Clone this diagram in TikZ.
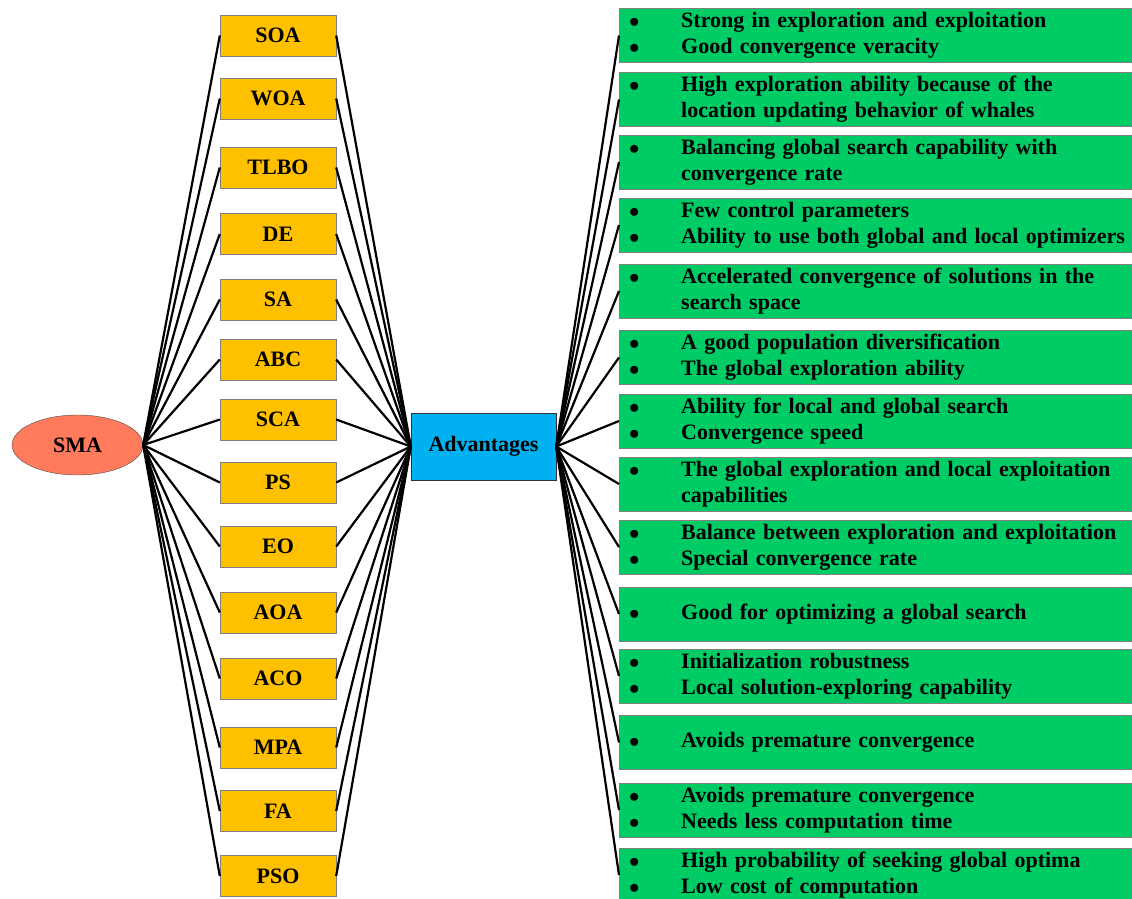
\documentclass[tikz,border=0pt]{standalone}
\usepackage{fontspec}
\setmainfont{Liberation Serif}
\usepackage{tikz}
\usetikzlibrary{shapes.geometric, positioning}
\definecolor{smasalmon}{HTML}{FF7B5C}
\definecolor{algyellow}{HTML}{FFC000}
\definecolor{advblue}{HTML}{00B0F0}
\definecolor{prosgreen}{HTML}{00CC66}
\definecolor{edgegray}{HTML}{7F7F7F}

% bullet lists inside the green boxes
\newcommand{\bul}{$\bullet$}
\newcommand{\twopts}[2]{\begin{tabular}{@{}p{52pt}@{}l@{}}\bul & #1\\ \bul & #2\end{tabular}}
\newcommand{\wrappt}[2]{\begin{tabular}{@{}p{52pt}@{}l@{}}\bul & #1\\ & #2\end{tabular}}
\newcommand{\onept}[1]{\begin{tabular}{@{}p{52pt}@{}l@{}}\bul & #1\end{tabular}}

\tikzset{
  bigfont/.style={font=\fontsize{22}{26}\selectfont\bfseries},
  algbox/.style={draw=edgegray, fill=algyellow, bigfont, minimum width=116pt, minimum height=41pt, inner sep=0pt},
  prosbox/.style={draw=edgegray, fill=prosgreen, bigfont, anchor=west, text width=492pt, inner xsep=10pt, inner ysep=0pt, minimum height=54pt, align=left},
  link/.style={line width=2.2pt}
}

\begin{document}
\begin{tikzpicture}[x=1pt, y=-1pt]
    \useasboundingbox (0,0) rectangle (1132,899);

    \node[ellipse, draw=black!70, fill=smasalmon, bigfont, minimum width=131pt, minimum height=60pt, inner sep=0pt] (sma) at (77.5,445) {SMA};
    \node[draw=black!80, fill=advblue, bigfont, minimum width=145pt, minimum height=67pt, inner sep=0pt] (adv) at (483.5,446.5) {Advantages};

    % algorithms
    \foreach \alg/\y in {SOA/35.5, WOA/98.5, TLBO/167.5, DE/234, SA/299.5, ABC/359.5, SCA/419.5,
                         PS/482.5, EO/546.5, AOA/612.5, ACO/678.5, MPA/747.5, FA/811, PSO/876}
    {
        \node[algbox] (\alg) at (278,\y) {\alg};
        \draw[link] (sma.east) -- (\alg.west);
        \draw[link] (\alg.east) -- (adv.west);
    }

    % advantages
    \node[prosbox] (p1) at (619,35.5) {\twopts{Strong in exploration and exploitation}{Good convergence veracity}};
    \node[prosbox] (p2) at (619,99.5) {\wrappt{High exploration ability because of the}{location updating behavior of whales}};
    \node[prosbox] (p3) at (619,162) {\wrappt{Balancing global search capability with}{convergence rate}};
    \node[prosbox] (p4) at (619,225) {\twopts{Few control parameters}{Ability to use both global and local optimizers}};
    \node[prosbox] (p5) at (619,291) {\wrappt{Accelerated convergence of solutions in the}{search space}};
    \node[prosbox] (p6) at (619,357.5) {\twopts{A good population diversification}{The global exploration ability}};
    \node[prosbox] (p7) at (619,421) {\twopts{Ability for local and global search}{Convergence speed}};
    \node[prosbox] (p8) at (619,484) {\wrappt{The global exploration and local exploitation}{capabilities}};
    \node[prosbox] (p9) at (619,547) {\twopts{Balance between exploration and exploitation}{Special convergence rate}};
    \node[prosbox] (p10) at (619,614) {\onept{Good for optimizing a global search}};
    \node[prosbox] (p11) at (619,676) {\twopts{Initialization robustness}{Local solution-exploring capability}};
    \node[prosbox] (p12) at (619,742.5) {\onept{Avoids premature convergence}};
    \node[prosbox] (p13) at (619,810) {\twopts{Avoids premature convergence}{Needs less computation time}};
    \node[prosbox] (p14) at (619,875) {\twopts{High probability of seeking global optima}{Low cost of computation}};

    \foreach \i in {1,...,14}
        \draw[link] (adv.east) -- (p\i.west);
\end{tikzpicture}
\end{document}
